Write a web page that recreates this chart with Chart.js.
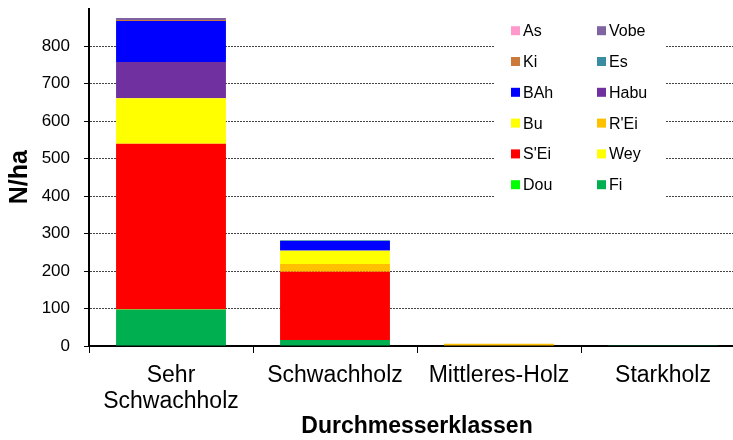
<!DOCTYPE html>
<html>
<head>
<meta charset="utf-8">
<script src="https://cdn.jsdelivr.net/npm/chart.js@4.4.0/dist/chart.umd.min.js"></script>
<style>
html, body { margin: 0; padding: 0; background: #fff; overflow: hidden; }
#wrap { width: 760px; height: 440px; position: relative; }
</style>
</head>
<body>
<div id="wrap"><canvas id="holzChart"></canvas></div>
<script>
// Durchmesserklassen (x-Achse)
var klassen = [["Sehr", "Schwachholz"], "Schwachholz", "Mittleres-Holz", "Starkholz"];
var yTickWerte = [0, 100, 200, 300, 400, 500, 600, 700, 800];

// Baumarten, unten nach oben gestapelt
var arten  = ["Fi", "Dou", "Wey", "S'Ei", "R'Ei", "Bu", "Habu", "BAh", "Es", "Ki", "Vobe", "As"];
var farben = ["#00B050", "#00FF00", "#FFFF00", "#FF0000", "#FFC000", "#FFFF00",
              "#7030A0", "#0000FF", "#3A8DA0", "#CC7A3C", "#8064A2", "#FF99CC"];

// N/ha je Klasse
var fi   = [96, 16, 0, 1];
var dou  = [1.5, 0, 0, 0];
var wey  = [0, 0, 0, 0];
var sei  = [442, 182, 0, 0];
var rei  = [0, 21, 6, 0];
var bu   = [121, 35, 0, 0];
var habu = [97, 1, 0, 0];
var bah  = [109, 25, 0, 0];
var es   = [0, 2, 0, 0];
var ki   = [3, 0, 0, 0];
var vobe = [5, 0, 0, 0];
var as   = [0, 0, 0, 0];

var werte = [fi, dou, wey, sei, rei, bu, habu, bah, es, ki, vobe, as];

var datasets = [];
for (var i = 0; i < arten.length; i++) {
    datasets.push({
        label: arten[i],
        data: werte[i],
        backgroundColor: farben[i],
        borderWidth: 0,
        categoryPercentage: 1,
        barPercentage: 0.67
    });
}

// legende im diagramm, 2 spalten
var legendeBox = {
    id: "legendeBox",
    afterDraw: function(chart) {
        var ctx = chart.ctx;
        ctx.save();
        ctx.fillStyle = "#fff";
        ctx.fillRect(494, 14, 171, 190);
        ctx.font = "16px 'Liberation Sans', Arial, sans-serif";
        ctx.textBaseline = "middle";
        ctx.textAlign = "left";
        var ds = chart.data.datasets.slice().reverse();
        for (var k = 0; k < ds.length; k++) {
            var spalte = k % 2;
            var zeile = Math.floor(k / 2);
            var bx = spalte === 0 ? 511 : 597;
            var y = 30.7 + zeile * 30.8;
            ctx.fillStyle = ds[k].backgroundColor;
            ctx.fillRect(bx, y - 4.5, 9, 9);
            ctx.fillStyle = "#000";
            ctx.fillText(ds[k].label, bx + 12, y + 1);
        }
        ctx.restore();
    }
};

Chart.defaults.font.family = "'Liberation Sans', Arial, sans-serif";
Chart.defaults.color = "#000";

new Chart("holzChart", {
    type: "bar",
    data: {
        labels: klassen,
        datasets: datasets
    },
    options: {
        responsive: true,
        maintainAspectRatio: false,
        animation: false,
        layout: { padding: { top: 8.5, right: 15, left: 0, bottom: 0 } },
        plugins: {
            legend: { display: false },
            tooltip: { enabled: false }
        },
        scales: {
            x: {
                stacked: true,
                afterFit: function(scale) { scale.height = 94; },
                grid: {
                    offset: true,
                    drawOnChartArea: false,
                    drawTicks: true,
                    tickLength: 7,
                    color: "#000",
                    tickColor: "#000",
                    tickWidth: 1
                },
                border: { color: "#000", width: 2 },
                ticks: {
                    font: { size: 23, lineHeight: 1.13 },
                    color: "#000",
                    padding: 10,
                    maxRotation: 0,
                    autoSkip: false
                },
                title: {
                    display: true,
                    text: "Durchmesserklassen",
                    font: { size: 23, weight: "bold" },
                    color: "#000",
                    padding: { top: 0, bottom: 0 }
                }
            },
            y: {
                stacked: true,
                min: 0,
                max: 900,
                afterFit: function(scale) {
                    scale.width = 89;
                    scale.paddingTop = 0;
                    scale.paddingBottom = 0;
                },
                grid: {
                    color: function(c) {
                        var v = c.tick ? c.tick.value : 0;
                        return (v > 0 && v < 900) ? "#444" : "rgba(0,0,0,0)";
                    },
                    tickColor: function(c) {
                        var v = c.tick ? c.tick.value : 0;
                        return v < 900 ? "#000" : "rgba(0,0,0,0)";
                    },
                    tickBorderDash: [],
                    tickLength: 5,
                    lineWidth: 1
                },
                border: { color: "#000", width: 2, dash: [2, 1] },
                ticks: {
                    stepSize: 100,
                    font: { size: 17 },
                    color: "#000",
                    padding: 14,
                    callback: function(v) {
                        return yTickWerte.indexOf(v) >= 0 ? v : "";
                    }
                },
                title: {
                    display: true,
                    text: "N/ha",
                    font: { size: 25, weight: "bold" },
                    color: "#000",
                    padding: { top: 5, bottom: 0 }
                }
            }
        }
    },
    plugins: [legendeBox]
});
</script>
</body>
</html>
